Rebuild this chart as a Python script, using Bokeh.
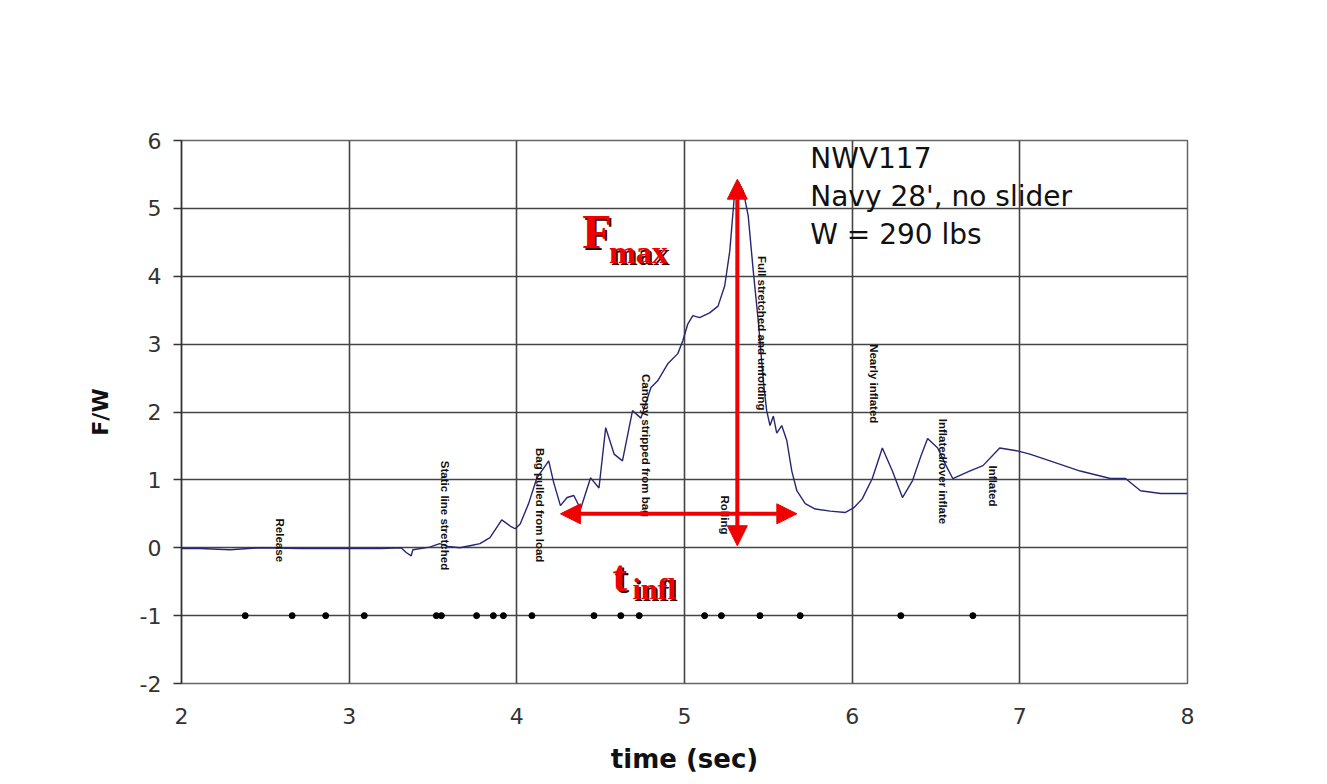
import math
from bokeh.plotting import figure
from bokeh.models import Arrow, NormalHead, Label, Range1d, FixedTicker
from bokeh.core.properties import value
from bokeh.embed import file_html
from bokeh.resources import INLINE

# ---- data ----
time_s = [2.00, 2.11, 2.29, 2.47, 2.71, 2.95, 3.19, 3.31, 3.34, 3.37, 3.38, 3.48, 3.54, 3.59,
          3.66, 3.72, 3.78, 3.84, 3.91, 3.96, 3.99, 4.02, 4.07, 4.12, 4.19, 4.22, 4.26, 4.30,
          4.34, 4.38, 4.44, 4.49, 4.53, 4.58, 4.63, 4.69, 4.74, 4.80, 4.84, 4.90, 4.96, 4.99,
          5.02, 5.05, 5.09, 5.15, 5.20, 5.24, 5.27, 5.30, 5.32, 5.35, 5.38, 5.41, 5.44, 5.47,
          5.49, 5.51, 5.53, 5.55, 5.58, 5.61, 5.64, 5.67, 5.72, 5.78, 5.87, 5.96, 6.01, 6.06,
          6.12, 6.18, 6.24, 6.30, 6.36, 6.41, 6.45, 6.51, 6.56, 6.60, 6.70, 6.78, 6.88, 6.98,
          7.06, 7.18, 7.36, 7.54, 7.63, 7.72, 7.84, 8.00]
force_ratio = [-0.01, -0.01, -0.03, 0.00, -0.01, -0.01, -0.01, 0.00, -0.07, -0.12, -0.03, 0.01, 0.06, 0.02,
               0.00, 0.03, 0.06, 0.15, 0.41, 0.32, 0.28, 0.35, 0.65, 1.03, 1.28, 0.96, 0.62, 0.74,
               0.77, 0.57, 1.03, 0.88, 1.77, 1.38, 1.28, 2.02, 1.91, 2.36, 2.46, 2.71, 2.86, 3.05,
               3.30, 3.42, 3.39, 3.46, 3.56, 3.86, 4.37, 5.26, 5.40, 5.26, 4.89, 4.08, 3.34, 2.46,
               2.02, 1.80, 1.94, 1.69, 1.80, 1.58, 1.13, 0.84, 0.65, 0.57, 0.54, 0.52, 0.59, 0.72,
               1.02, 1.47, 1.13, 0.74, 0.99, 1.35, 1.61, 1.47, 1.21, 1.02, 1.13, 1.21, 1.47, 1.43,
               1.38, 1.28, 1.13, 1.02, 1.02, 0.84, 0.80, 0.80]

event_times = [2.38, 2.66, 2.86, 3.09, 3.52, 3.55, 3.76, 3.86, 3.92, 4.09, 4.46, 4.62, 4.73,
               5.12, 5.22, 5.45, 5.69, 6.29, 6.72]
event_level = [-1] * len(event_times)

event_names = ["Release", "Static line stretched", "Bag pulled from load",
               "Canopy stripped from bag", "Rolling", "Full stretched and unfolding",
               "Nearly inflated", "Inflated/over inflate", "Inflated"]
event_label_x = [2.59, 3.57, 4.14, 4.77, 5.24, 5.46, 6.13, 6.54, 6.84]
event_label_y = [0.43, 1.28, 1.47, 2.56, 0.77, 4.30, 3.00, 1.90, 1.21]

x_ticks = [2, 3, 4, 5, 6, 7, 8]
y_ticks = [-2, -1, 0, 1, 2, 3, 4, 5, 6]

# ---- figure ----
p = figure(width=1311, height=776, output_backend="svg", toolbar_location=None,
           x_range=Range1d(2, 8), y_range=Range1d(-2, 6),
           min_border_left=181, min_border_right=124, min_border_top=140, min_border_bottom=93)
p.background_fill_color = "white"
p.border_fill_color = "white"
p.outline_line_color = "#666666"
p.outline_line_width = 1.5

p.xaxis.ticker = FixedTicker(ticks=x_ticks)
p.yaxis.ticker = FixedTicker(ticks=y_ticks)
p.yaxis.major_label_overrides = {-2: "-2", -1: "-1"}
for ax in (p.xaxis, p.yaxis):
    ax.minor_tick_line_color = None
    ax.major_label_text_font = "DejaVu Sans"
    ax.major_label_text_font_size = "22px"
    ax.major_label_text_color = "#333333"
    ax.axis_label_text_font = "DejaVu Sans"
    ax.axis_label_text_font_style = "bold"
    ax.axis_label_text_color = "#111111"
p.xaxis.axis_line_color = None
p.xaxis.major_tick_line_color = None
p.yaxis.axis_line_color = "#333333"
p.yaxis.axis_line_width = 1.5
p.yaxis.major_tick_line_color = "#333333"
p.yaxis.major_tick_line_width = 1.5
p.yaxis.major_tick_out = 8
p.yaxis.major_tick_in = 0
p.xaxis.major_label_standoff = 18
p.yaxis.major_label_standoff = 12
p.xaxis.axis_label = "time (sec)"
p.yaxis.axis_label = "F/W"
p.xaxis.axis_label_text_font_size = "26px"
p.yaxis.axis_label_text_font_size = "22px"
p.xaxis.axis_label_standoff = 17
p.yaxis.axis_label_standoff = 24

p.xgrid.ticker = FixedTicker(ticks=x_ticks)
p.ygrid.ticker = FixedTicker(ticks=y_ticks)
for g in (p.xgrid, p.ygrid):
    g.grid_line_color = "#444444"
    g.grid_line_width = 1.6

# main trace
p.line(time_s, force_ratio, line_color="#262673", line_width=1.4)

# event markers
p.scatter(event_times, event_level, size=6, color="black")

# event labels
p.text(event_label_x, event_label_y, text=event_names, angle=-math.pi / 2,
       text_align="left", text_baseline="middle",
       text_font=value("Liberation Sans"), text_font_size="11.5px",
       text_font_style="bold", text_color="#111111")

# info text
for txt, yy in [("NWV117", 5.74), ("Navy 28', no slider", 5.18), ("W = 290 lbs", 4.62)]:
    p.add_layout(Label(x=5.75, y=yy, text=txt, text_font="DejaVu Sans",
                       text_font_size="28px", text_color="#111111",
                       text_baseline="alphabetic"))

RED = "#f00000"
# arrows
p.add_layout(Arrow(x_start=5.315, y_start=0.03, x_end=5.315, y_end=5.43,
                   line_color=RED, line_width=4,
                   start=NormalHead(size=20, fill_color=RED, line_color=RED),
                   end=NormalHead(size=20, fill_color=RED, line_color=RED)))
p.add_layout(Arrow(x_start=4.26, y_start=0.5, x_end=5.67, y_end=0.5,
                   line_color=RED, line_width=4,
                   start=NormalHead(size=20, fill_color=RED, line_color=RED),
                   end=NormalHead(size=20, fill_color=RED, line_color=RED)))

def shadow_label(x, y, text, size):
    for col, dx, dy in [("#300000", 2, -2), (RED, 0, 0)]:
        p.add_layout(Label(x=x, y=y, text=text, x_offset=dx, y_offset=dy,
                           text_font="Liberation Serif", text_font_style="bold",
                           text_font_size=size, text_color=col,
                           text_baseline="alphabetic"))

shadow_label(4.39, 4.66, "F", "48px")
shadow_label(4.55, 4.36, "max", "32px")
shadow_label(4.57, -0.43, "t", "44px")
shadow_label(4.69, -0.60, "infl", "30px")

open("out.html", "w").write(file_html(p, INLINE))
